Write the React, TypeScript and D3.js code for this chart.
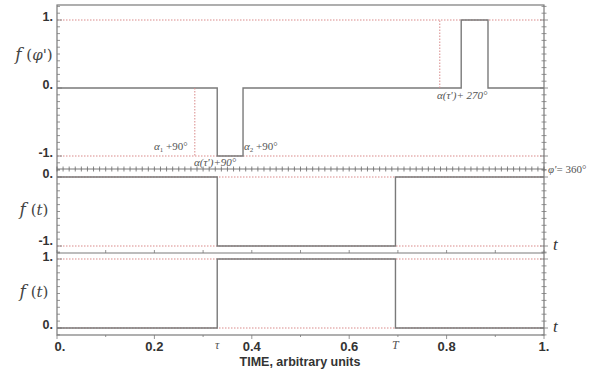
import React, { useEffect, useRef } from 'react';
import * as d3 from 'd3';

// switching instants (arbitrary time units)
const tau = 0.329;
const bigT = 0.695;

// top panel: f(phi') steps
const phaseTimes = [0, 0.329, 0.382, 0.83, 0.885, 1];
const phaseLevels = [0, -1, 0, 1, 0];
// dotted markers in top panel: [time, level]
const phaseMarkers = [
  [0.283, -1],
  [0.786, 1],
];

// middle panel f(t)
const midTimes = [0, tau, bigT, 1];
const midLevels = [0, -1, 0];

// bottom panel f(t)
const botTimes = [0, tau, bigT, 1];
const botLevels = [0, 1, 0];

const xTicks = [0, 0.2, 0.4, 0.6, 0.8, 1];
const xTickLabels = ['0.', '0.2', '0.4', '0.6', '0.8', '1.'];

const W = 606;
const H = 374;
const GRAY = '#7a7a7a';
const RED = '#d98a8a';

const toPoints = (times, levels) => {
  const pts = [];
  levels.forEach((v, i) => {
    pts.push([times[i], v]);
    pts.push([times[i + 1], v]);
  });
  return pts;
};

const App = () => {
  const svgRef = useRef(null);

  useEffect(() => {
    const svg = d3.select(svgRef.current);
    svg.selectAll('*').remove();

    const x = d3.scaleLinear().domain([0, 1]).range([57, 544]);

    const panels = [
      { y: d3.scaleLinear().domain([-1, 1]).range([156, 20]), dom: [-1.2, 1.2], labels: [[1, '1.', 0], [0, '0.', 0], [-1, '-1.', 0]], red: [1, -1], times: phaseTimes, levels: phaseLevels, ylab: 'phi', ylabY: 60 },
      { y: d3.scaleLinear().domain([-1, 0]).range([246, 177]), dom: [-1.1, 0.1], labels: [[0, '0.', 0], [-1, '-1.', -2]], red: [0, -1], times: midTimes, levels: midLevels, ylab: 't', ylabY: 215 },
      { y: d3.scaleLinear().domain([0, 1]).range([328, 259]), dom: [-0.1, 1.1], labels: [[1, '1.', 1], [0, '0.', 0]], red: [1, 0], times: botTimes, levels: botLevels, ylab: 't', ylabY: 297 },
    ];

    const g = svg.append('g');

    panels.forEach((p, pi) => {
      // red dotted reference lines
      p.red.forEach((v) => {
        g.append('line')
          .attr('x1', x(0)).attr('x2', x(1))
          .attr('y1', p.y(v)).attr('y2', p.y(v))
          .attr('stroke', RED).attr('stroke-width', 1)
          .attr('stroke-dasharray', '1.5,1.5');
      });

      // signal
      const line = d3.line().x((d) => x(d[0])).y((d) => p.y(d[1]));
      g.append('path')
        .datum(toPoints(p.times, p.levels))
        .attr('d', line)
        .attr('fill', 'none')
        .attr('stroke', GRAY)
        .attr('stroke-width', 1.4);

      // left ticks (inside) and right ticks (crossing)
      const minor = d3.range(Math.ceil(p.dom[0] * 10), Math.floor(p.dom[1] * 10) + 1).map((d) => d / 10);
      minor.forEach((v) => {
        const major = Math.abs(v - Math.round(v)) < 1e-6;
        const yy = p.y(v);
        g.append('line').attr('x1', x(0)).attr('x2', x(0) + (major ? 5 : 3))
          .attr('y1', yy).attr('y2', yy).attr('stroke', GRAY).attr('stroke-width', 0.8);
        g.append('line').attr('x1', x(1) - (major ? 4 : 2.5)).attr('x2', x(1) + (major ? 4 : 2.5))
          .attr('y1', yy).attr('y2', yy).attr('stroke', GRAY).attr('stroke-width', 0.8);
      });

      // tick labels
      p.labels.forEach(([v, s, dy]) => {
        g.append('text')
          .attr('x', 53).attr('y', p.y(v) + 1 + dy)
          .attr('text-anchor', 'end')
          .attr('font-family', 'Liberation Sans, Arial, sans-serif')
          .attr('font-weight', 'bold').attr('font-size', 12.5)
          .attr('fill', '#333')
          .text(s);
      });

      // y label
      const yl = g.append('text')
        .attr('x', 34).attr('y', p.ylabY)
        .attr('text-anchor', 'middle')
        .attr('font-family', 'DejaVu Serif, Liberation Serif, serif')
        .attr('font-size', 17).attr('fill', '#444');
      yl.append('tspan').attr('font-style', 'italic').text('f');
      yl.append('tspan').attr('font-size', 15).text(' (');
      yl.append('tspan').attr('font-style', 'italic').attr('font-size', 15).text(p.ylab === 'phi' ? "φ'" : 't');
      yl.append('tspan').attr('font-size', 15).text(')');

      if (pi > 0) {
        g.append('text')
          .attr('x', 553).attr('y', p.y(p.red[1]) + 4)
          .attr('font-family', 'Liberation Serif, serif')
          .attr('font-style', 'italic').attr('font-size', 17)
          .attr('fill', '#333').text('t');
      }
    });

    // frame
    g.append('rect')
      .attr('x', x(0)).attr('y', 5)
      .attr('width', x(1) - x(0)).attr('height', 335 - 5)
      .attr('fill', 'none').attr('stroke', GRAY).attr('stroke-width', 1.2);
    [169, 253].forEach((yy) => {
      g.append('line').attr('x1', x(0)).attr('x2', x(1))
        .attr('y1', yy).attr('y2', yy).attr('stroke', GRAY).attr('stroke-width', 1.2);
    });

    // dense crossed ticks along the phi'=360 boundary
    d3.range(0, 81).map((i) => i / 80).forEach((t) => {
      g.append('line').attr('x1', x(t)).attr('x2', x(t))
        .attr('y1', 166.5).attr('y2', 171.5)
        .attr('stroke', '#666').attr('stroke-width', 0.8);
    });

    // small ticks on the lower boundaries
    d3.range(0, 11).map((i) => i / 10).forEach((t) => {
      g.append('line').attr('x1', x(t)).attr('x2', x(t))
        .attr('y1', 253).attr('y2', 250)
        .attr('stroke', GRAY).attr('stroke-width', 0.8);
      g.append('line').attr('x1', x(t)).attr('x2', x(t))
        .attr('y1', 335).attr('y2', Math.round(t * 10) % 2 === 0 ? 339 : 337)
        .attr('stroke', GRAY).attr('stroke-width', 0.8);
    });

    // dotted markers in top panel
    const yTop = panels[0].y;
    phaseMarkers.forEach(([t, v]) => {
      g.append('line').attr('x1', x(t)).attr('x2', x(t))
        .attr('y1', yTop(0)).attr('y2', yTop(v))
        .attr('stroke', RED).attr('stroke-width', 1)
        .attr('stroke-dasharray', '1.5,1.5');
    });

    // annotations
    const ann = (tx, ty, parts) => {
      const t = g.append('text').attr('x', tx).attr('y', ty)
        .attr('font-family', 'Liberation Serif, Times New Roman, serif')
        .attr('font-size', 11).attr('fill', '#555');
      parts.forEach(([s, opt]) => {
        const sp = t.append('tspan').text(s);
        if (opt === 'i') sp.attr('font-style', 'italic');
        if (opt === 'sub') sp.attr('font-size', 7).attr('dy', 2);
        if (opt === 'up') sp.attr('dy', -2);
      });
    };
    ann(154, 150, [['α', 'i'], ['1', 'sub'], [' +90°', 'up']]);
    ann(244, 150, [['α', 'i'], ['2', 'sub'], [' +90°', 'up']]);
    ann(194, 166, [['α(τ\')+90°', 'i']]);
    ann(437, 99, [['α(τ\')+ 270°', 'i']]);
    ann(548, 173, [['φ\'', 'i'], ['= 360°', '']]);

    // x tick labels
    xTicks.forEach((t, i) => {
      g.append('text')
        .attr('x', x(t) + (i === 0 ? 3 : 0)).attr('y', 351)
        .attr('text-anchor', 'middle')
        .attr('font-family', 'Liberation Sans, Arial, sans-serif')
        .attr('font-weight', 'bold').attr('font-size', 13)
        .attr('fill', '#333').text(xTickLabels[i]);
    });
    [[tau, 'τ'], [bigT, 'T']].forEach(([t, s]) => {
      g.append('text')
        .attr('x', x(t)).attr('y', 349)
        .attr('text-anchor', 'middle')
        .attr('font-family', 'Liberation Serif, serif')
        .attr('font-style', 'italic').attr('font-size', 12)
        .attr('fill', '#555').text(s);
    });

    g.append('text')
      .attr('x', 300).attr('y', 366)
      .attr('text-anchor', 'middle')
      .attr('font-family', 'Liberation Sans, Arial, sans-serif')
      .attr('font-weight', 'bold').attr('font-size', 12.5)
      .attr('fill', '#333').text('TIME, arbitrary units');
  }, []);

  return (
    <svg
      ref={svgRef}
      width={W}
      height={H}
      style={{ position: 'absolute', left: 0, top: 0, background: '#fff' }}
    />
  );
};

export default App;
